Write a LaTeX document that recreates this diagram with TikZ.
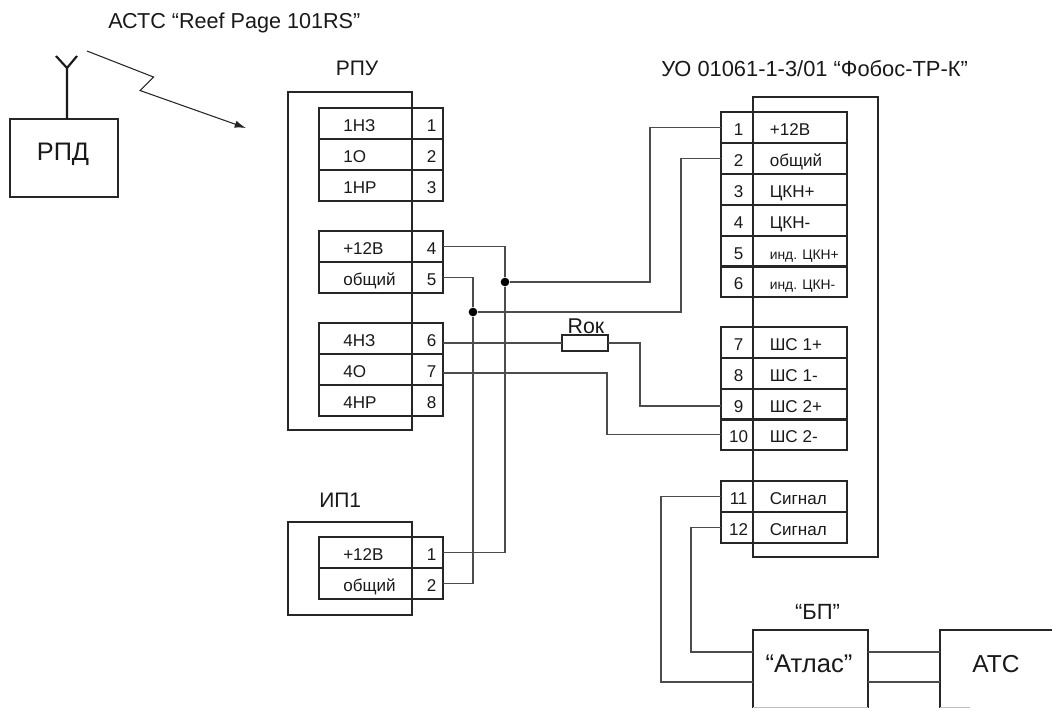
\documentclass[tikz,border=0pt]{standalone}
\usepackage{fontspec}
\setmainfont{Liberation Sans}
\usetikzlibrary{arrows.meta}
\newcommand\pxfont[1]{\fontsize{#1}{#1}\selectfont}
\tikzset{
 x=0.75pt,y=-0.75pt,
 frame/.style={draw=black!85,line width=1pt,anchor=north west,inner sep=0pt,outer sep=0pt},
 wire/.style={draw=black!70,line width=0.8pt},
 txt/.style={inner sep=0pt,text=black!90,anchor=base},
 dot/.style={circle,fill=black,inner sep=0pt,minimum size=6.5pt},
 mid/.style={font=\pxfont{12.8}},
 small/.style={font=\pxfont{10.4}},
}
% name x y w h
\newcommand\fr[5]{\node[frame,minimum width=#4*0.75pt,minimum height=#5*0.75pt] (#1) at (#2,#3) {};}
\newcommand\ltab[5]{% name x y label pin
 \fr{#1l}{#2}{#3}{93}{31}
 \fr{#1}{#2+93}{#3}{31}{31}
 \node[txt,mid,anchor=base west] (#1t) at ([xshift=18pt,yshift=-6pt]#1l.west) {#4};
 \node[txt,mid] (#1n) at ([xshift=3pt,yshift=-6pt]#1.center) {#5};
}
\newcommand\rtab[5]{% name y label pin style
 \fr{#1}{721}{#2}{32}{31}
 \fr{#1l}{753}{#2}{94}{31}
 \node[txt,#5,anchor=base west] (#1t) at ([xshift=12.4pt,yshift=-6pt]#1l.west) {#3};
 \node[txt,mid] (#1n) at ([xshift=1.2pt,yshift=-6pt]#1.center) {#4};
}
\begin{document}
\begin{tikzpicture}
\useasboundingbox (0,0) rectangle (1052,708);
% outer boxes
\fr{rpuo}{288}{92}{124}{338}
\fr{ipo}{288}{522}{124}{93}
\fr{uoo}{753}{97}{125}{460}
% RPD
\fr{rpd}{10}{119}{108}{78}
\node[txt,font=\pxfont{19}] (rpdt) at (63,160) {РПД};
\coordinate (antT) at (67,68);
\coordinate (antL) at (56,56);
\coordinate (antR) at (77,56);
\draw[line width=1.6pt,black!90] (rpd.north -| antT) -- (antT) -- (antL) (antT) -- (antR);
\coordinate (z0) at (87,51);
\coordinate (z1) at (153.5,77);
\coordinate (z2) at (140,90.5);
\coordinate (z3) at (246,128);
\draw[line width=0.8pt,black!85,-{Latex[length=8.5pt,width=5.5pt]}] (z0) -- (z1) -- (z2) -- (z3);
% titles
\node[txt,font=\pxfont{16.2},anchor=base west] (title) at (108,28) {АСТС “Reef Page 101RS”};
\node[txt,font=\pxfont{15.75}] (rput) at (357,75) {РПУ};
\node[txt,font=\pxfont{16.4},anchor=base west] (uot) at (661,76) {УО 01061-1-3/01 “Фобос-ТР-К”};
\node[txt,font=\pxfont{15.75},anchor=base west] (ipt) at (319,507) {ИП1};
\node[txt,font=\pxfont{16.5}] (bpt) at (817.5,619) {“БП”};
% left tables
\ltab{a1}{319}{108}{1НЗ}{1}
\ltab{a2}{319}{139}{1О}{2}
\ltab{a3}{319}{170}{1НР}{3}
\ltab{a4}{319}{231}{+12В}{4}
\ltab{a5}{319}{262}{общий}{5}
\ltab{a6}{319}{323}{4НЗ}{6}
\ltab{a7}{319}{354}{4О}{7}
\ltab{a8}{319}{385}{4НР}{8}
\ltab{p1}{319}{537}{+12В}{1}
\ltab{p2}{319}{568}{общий}{2}
% right tables
\rtab{u1}{112}{+12В}{1}{mid}
\rtab{u2}{143}{общий}{2}{mid}
\rtab{u3}{174}{ЦКН+}{3}{mid}
\rtab{u4}{205}{ЦКН-}{4}{mid}
\rtab{u5}{236}{инд. ЦКН+}{5}{small}
\rtab{u6}{266}{инд. ЦКН-}{6}{small}
\rtab{u7}{327}{ШС 1+}{7}{mid}
\rtab{u8}{358}{ШС 1-}{8}{mid}
\rtab{u9}{389}{ШС 2+}{9}{mid}
\rtab{u10}{419}{ШС 2-}{10}{mid}
\rtab{u11}{481}{Сигнал}{11}{mid}
\rtab{u12}{512}{Сигнал}{12}{mid}
% resistor
\fr{rok}{562}{335}{46}{16}
\node[txt,font=\pxfont{16}] (rokt) at (586,333) {Rок};
% junctions
\node[dot] (jA) at (505,282) {};
\node[dot] (jB) at (473,312) {};
\coordinate (c1) at (650,282);
\coordinate (c2) at (681,312);
\coordinate (c3) at (640,343);
\coordinate (c3b) at (640,406);
\coordinate (c4) at (607,373);
\coordinate (c5) at (661,682);
\coordinate (c6) at (691,652);
% wires
\draw[wire] (a4.east) -| (jA);
\draw[wire] (jA) |- (p1.east);
\draw[wire] (a5.east) -| (jB);
\draw[wire] (jB) |- (p2.east);
\draw[wire] (jA) -- (c1) |- (u1.west);
\draw[wire] (jB) -- (c2) |- (u2.west);
\draw[wire] (a6.east |- rok.west) -- (rok.west);
\draw[wire] (rok.east) -- (c3) -- (c3b) -- (u9.west |- c3b);
\draw[wire] (a7.east |- c4) -- (c4) |- (u10.west);
% Atlas and ATS, cut by the lower edge of the picture
\coordinate (at1) at (753,707.5);
\coordinate (at2) at (753,630);
\coordinate (at3) at (868,630);
\coordinate (at4) at (868,707.5);
\coordinate (ts1) at (940,707.5);
\coordinate (ts2) at (940,630);
\coordinate (ts3) at (1052,630);
\draw[line width=1pt,black!85] (at1) -- (at2) -- (at3) -- (at4);
\draw[line width=1pt,black!85] (ts1) -- (ts2) -- (ts3);
\draw[black!25,line width=0.8pt] (at1) -- (at4) (ts1) -- ++(30,0);
\node[txt,font=\pxfont{19.2}] (atl) at (809,672) {“Атлас”};
\node[txt,font=\pxfont{18.4}] (ats) at (996,672) {АТС};
\coordinate (aL1) at (753,652);
\coordinate (aL2) at (753,682);
\coordinate (aR1) at (868,652);
\coordinate (aR2) at (868,682);
\coordinate (tL1) at (940,652);
\coordinate (tL2) at (940,682);
\draw[wire] (u11.west) -| (c5) -- (aL2);
\draw[wire] (u12.west) -| (c6) -- (aL1);
\draw[wire] (aR1) -- (tL1);
\draw[wire] (aR2) -- (tL2);
\end{tikzpicture}
\end{document}
